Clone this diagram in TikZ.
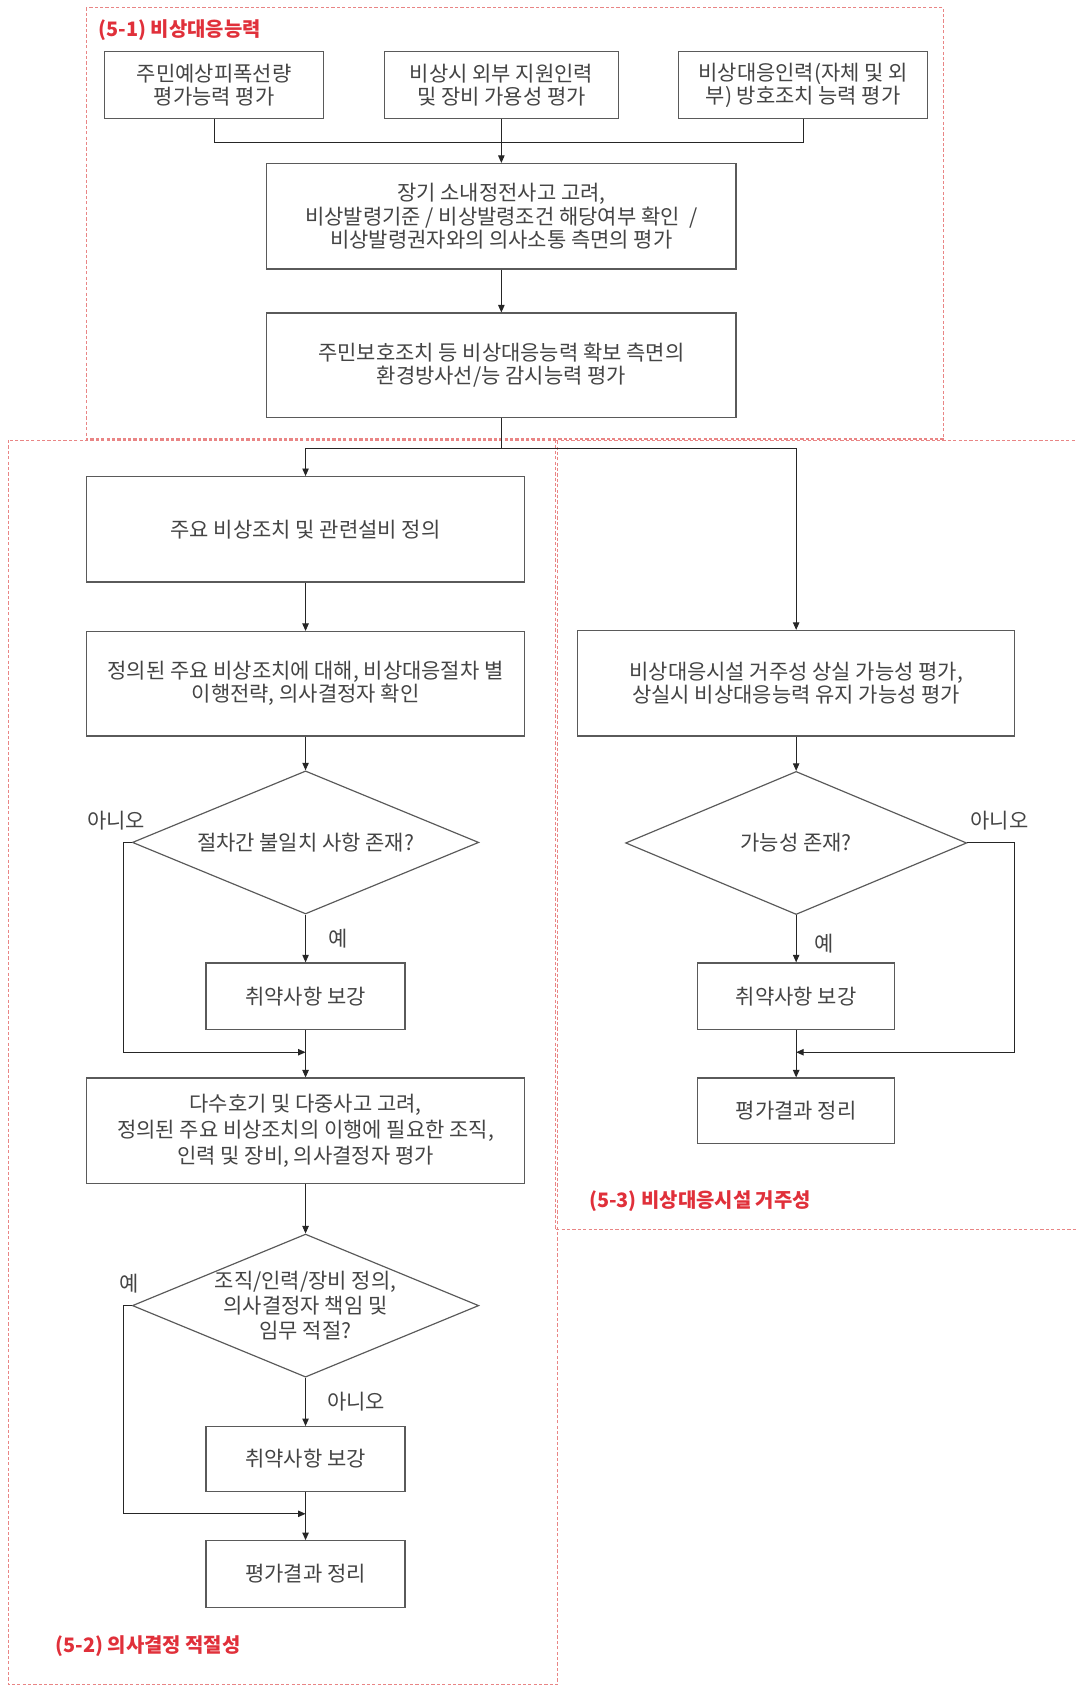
\documentclass[tikz,border=0pt]{standalone}
\usepackage{fontspec}
\newfontfamily\kr{Noto Sans CJK KR}
\usetikzlibrary{shapes.geometric,arrows.meta}
\definecolor{linegray}{HTML}{5A5A5A}
\definecolor{textgray}{HTML}{444444}
\definecolor{titlered}{HTML}{E0303A}
\definecolor{dashred}{HTML}{E98585}
\begin{document}
\begin{tikzpicture}[x=1pt,y=-1pt,
  box/.style={draw=linegray, line width=1.1pt, fill=white, text=textgray, align=center,
    inner sep=2pt, font=\kr\fontsize{19.5}{21.5}\selectfont},
  dec/.style={diamond, draw=linegray, line width=1.1pt, fill=white, inner sep=0pt},
  dectext/.style={text=textgray, align=center, font=\kr\fontsize{19.5}{23}\selectfont},
  arr/.style={-{Triangle[length=7pt,width=6pt]}, draw=black!85, line width=0.9pt},
  conn/.style={draw=black!85, line width=0.9pt},
  region/.style={draw=dashred, dash pattern=on 3pt off 2pt, line width=1pt},
  tag/.style={text=textgray, font=\kr\fontsize{19.5}{21}\selectfont},
  rtitle/.style={text=titlered, anchor=west, font=\kr\bfseries\fontsize{18.5}{20}\selectfont}
]
\useasboundingbox (0,0) rectangle (1000,1568);
% regions
\draw[region] (80,7) rectangle (877,408);
\draw[region] (8,409) rectangle (518,1566);
\draw[region] (516,409) -- (1003,409);
\draw[region] (516,409) -- (516,1143) -- (1003,1143);
\node[rtitle] (t1) at (88,28) {(5-1) 비상대응능력};
\node[rtitle] (t2) at (48,1530) {(5-2) 의사결정 적절성};
\node[rtitle] (t3) at (544,1116) {(5-3) 비상대응시설 거주성};

% 5-1
\node[box, minimum width=204, minimum height=62] (A1) at (199,79) {주민예상피폭선량\\평가능력 평가};
\node[box, minimum width=218, minimum height=62] (A2) at (466,79) {비상시 외부 지원인력\\및 장비 가용성 평가};
\node[box, minimum width=231, minimum height=62] (A3) at (746.5,79) {비상대응인력(자체 및 외\\부) 방호조치 능력 평가};
\node[box, minimum width=436, minimum height=98] (B) at (466,201) {장기 소내정전사고 고려,\\비상발령기준 / 비상발령조건 해당여부 확인~~/\\비상발령권자와의 의사소통 측면의 평가};
\node[box, minimum width=436, minimum height=97] (C) at (466,339.5) {주민보호조치 등 비상대응능력 확보 측면의\\환경방사선/능 감시능력 평가};

% 5-2
\node[box, minimum width=407, minimum height=98] (D) at (284,492) {주요 비상조치 및 관련설비 정의};
\node[box, minimum width=407, minimum height=97] (E) at (284,635.5) {정의된 주요 비상조치에 대해, 비상대응절차 별\\이행전략, 의사결정자 확인};
\node[dec, minimum width=322, minimum height=133, label={[dectext]center:절차간 불일치 사항 존재?}] (d1) at (284,783) {};
\node[box, minimum width=185, minimum height=62] (G) at (284,926) {취약사항 보강};
\node[box, minimum width=407, minimum height=98, font=\kr\fontsize{19.5}{24}\selectfont] (H) at (284,1051) {다수호기 및 다중사고 고려,\\정의된 주요 비상조치의 이행에 필요한 조직,\\인력 및 장비, 의사결정자 평가};
\node[dec, minimum width=322, minimum height=133, label={[dectext]center:조직/인력/장비 정의,\\의사결정자 책임 및\\임무 적절?}] (d2) at (284,1213.5) {};
\node[box, minimum width=185, minimum height=60] (I) at (284,1356) {취약사항 보강};
\node[box, minimum width=185, minimum height=62] (J) at (284,1463) {평가결과 정리};

% 5-3
\node[box, minimum width=406, minimum height=98] (F) at (740,635) {비상대응시설 거주성 상실 가능성 평가,\\상실시 비상대응능력 유지 가능성 평가};
\node[dec, minimum width=317, minimum height=133, label={[dectext]center:가능성 존재?}] (d3) at (740,783.5) {};
\node[box, minimum width=183, minimum height=62] (K) at (740,926) {취약사항 보강};
\node[box, minimum width=183, minimum height=61] (L) at (740,1032.5) {평가결과 정리};

% labels
\node[tag] (n1) at (108,763) {아니오};
\node[tag] (y1) at (314,872) {예};
\node[tag] (y2) at (120,1193) {예};
\node[tag] (n2) at (331,1303) {아니오};
\node[tag] (n3) at (929,763) {아니오};
\node[tag] (y3) at (766,877) {예};

% connectors 5-1
\coordinate (m1) at (466,132);
\draw[conn] (A1.south) |- (m1) -| (A3.south);
\draw[arr] (A2.south) -- (B.north);
\draw[arr] (B.south) -- (C.north);
\coordinate (s1) at (466,417);
\draw[conn] (C.south) -- (s1);
\draw[arr] (s1) -| (D.north);
\draw[arr] (s1) -| (F.north);

% connectors 5-2
\draw[arr] (D.south) -- (E.north);
\draw[arr] (E.south) -- (d1.north);
\draw[arr] (d1.south) -- (G.north);
\coordinate (c1) at (115,978);
\coordinate (j1) at (284,978);
\draw[arr] (d1.west) -| (c1) -- (j1);
\draw[conn] (G.south) -- (j1);
\draw[arr] (j1) -- (H.north);
\draw[arr] (H.south) -- (d2.north);
\draw[arr] (d2.south) -- (I.north);
\coordinate (c2) at (115,1407);
\coordinate (j2) at (284,1407);
\draw[arr] (d2.west) -| (c2) -- (j2);
\draw[conn] (I.south) -- (j2);
\draw[arr] (j2) -- (J.north);

% connectors 5-3
\draw[arr] (F.south) -- (d3.north);
\draw[arr] (d3.south) -- (K.north);
\coordinate (c3) at (943,978);
\coordinate (j3) at (740,978);
\draw[arr] (d3.east) -| (c3) -- (j3);
\draw[conn] (K.south) -- (j3);
\draw[arr] (j3) -- (L.north);
\end{tikzpicture}
\end{document}
